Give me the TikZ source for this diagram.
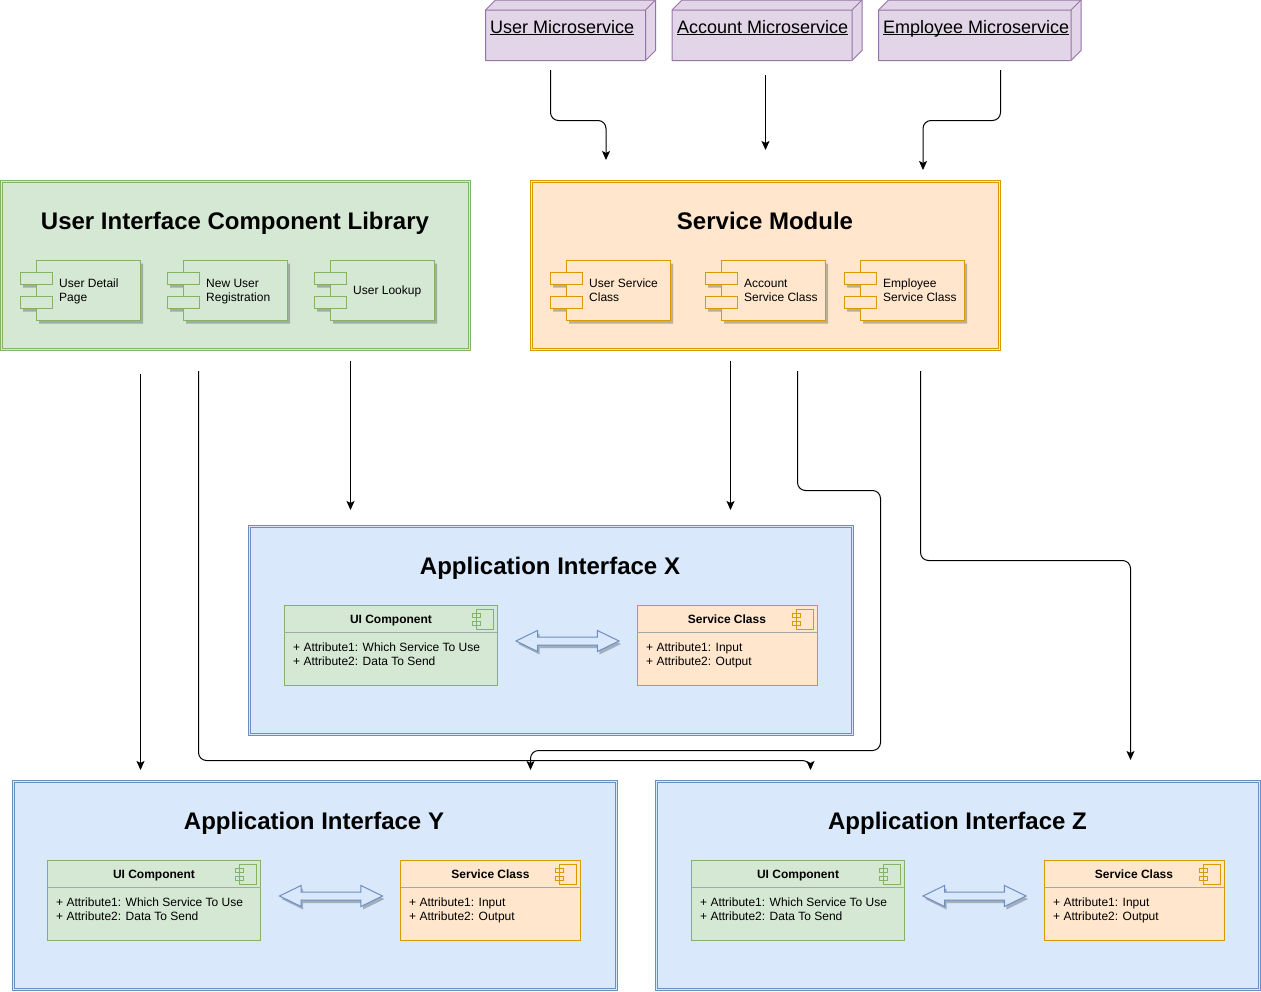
\documentclass[tikz,border=0pt]{standalone}
\usepackage{fontspec}
\setmainfont{Liberation Sans}
\usepackage{xcolor}
\usetikzlibrary{arrows.meta,shapes.arrows,shadows}
\definecolor{GreenFill}{HTML}{D5E8D4}
\definecolor{GreenLine}{HTML}{82B366}
\definecolor{GreenShade}{HTML}{A0AE9F}
\definecolor{OrangeFill}{HTML}{FFE6CC}
\definecolor{OrangeLine}{HTML}{D79B00}
\definecolor{OrangeShade}{HTML}{BFAC99}
\definecolor{BlueFill}{HTML}{DAE8FC}
\definecolor{BlueLine}{HTML}{6C8EBF}
\definecolor{BlueShade}{HTML}{A3AEBD}
\definecolor{PurpleFill}{HTML}{E1D5E7}
\definecolor{PurpleLine}{HTML}{9673A6}
\definecolor{RuleGray}{HTML}{A0A8A8}

\begin{document}
\begin{tikzpicture}[x=1pt,y=-1pt,
  panel/.style={draw=#1Line,fill=#1Fill,double=#1Fill,double distance=1pt,line width=1pt,inner sep=0pt,outer sep=0pt},
  box/.style={draw=#1Line,fill=#1Fill,line width=1pt},
  classrule/.style={draw=RuleGray,line width=1pt},
  deploy/.style={draw=PurpleLine,fill=PurpleFill,line width=1pt,line join=round},
  link/.style={draw=black,line width=1pt,rounded corners=8pt,-{Stealth[length=9pt,width=8pt,inset=2pt]}},
  swaparrow/.style={double arrow,draw=BlueLine,fill=BlueFill,line width=1pt,inner xsep=0pt,inner ysep=3.5pt,minimum height=103pt,minimum width=20pt,
    double arrow head extend=6.5pt,double arrow tip angle=52,general shadow={shadow xshift=2pt,shadow yshift=-3pt,fill=BlueShade}},
  title/.style={font=\fontsize{24}{28}\selectfont\bfseries,anchor=base,inner sep=0pt},
  msname/.style={font=\fontsize{18}{21}\selectfont,anchor=base west,inner sep=0pt},
  comptext/.style={font=\fontsize{12}{14}\selectfont,anchor=north west,align=left,inner sep=0pt},
  classhead/.style={font=\fontsize{12}{14}\selectfont\bfseries,anchor=base,inner sep=0pt},
]
\useasboundingbox (0,0) rectangle (1261,991);
% microservices
\draw[deploy] (485.5,10) -- (495.5,0) -- (655.5,0) -- (655.5,50.5) -- (645.5,60.5) -- (485.5,60.5) -- cycle;
\draw[deploy] (485.5,10) -- (645.5,10) -- (645.5,60.5) (645.5,10) -- (655.5,0);
\node[msname] (userMs) at (490,33) {\underline{\smash{User Microservice}}};
\draw[deploy] (672,10) -- (682,0) -- (862,0) -- (862,50.5) -- (852,60.5) -- (672,60.5) -- cycle;
\draw[deploy] (672,10) -- (852,10) -- (852,60.5) (852,10) -- (862,0);
\node[msname] (accountMs) at (677,33) {\underline{\smash{Account Microservice}}};
\draw[deploy] (878.5,10) -- (888.5,0) -- (1081,0) -- (1081,50.5) -- (1071,60.5) -- (878.5,60.5) -- cycle;
\draw[deploy] (878.5,10) -- (1071,10) -- (1071,60.5) (1071,10) -- (1081,0);
\node[msname] (employeeMs) at (883,33) {\underline{\smash{Employee Microservice}}};
% component library
\node[panel=Green,minimum width=468pt,minimum height=168pt] (libPanel) at (235,265) {};
\node[title] (libTitle) at (235,229) {User Interface Component Library};
\fill[GreenShade] (39,263.5) rectangle (143,323.5) (23,275.5) rectangle (55,287.5) (23,299.5) rectangle (55,311.5);
\draw[box=Green] (36.5,260.5) rectangle (140.5,320.5);
\draw[box=Green] (20.5,272.5) rectangle (52.5,284.5) (20.5,296.5) rectangle (52.5,308.5);
\node[comptext] (detailPage) at (59,278.3) {User Detail\\Page};
\fill[GreenShade] (186,263.5) rectangle (290,323.5) (170,275.5) rectangle (202,287.5) (170,299.5) rectangle (202,311.5);
\draw[box=Green] (183.5,260.5) rectangle (287.5,320.5);
\draw[box=Green] (167.5,272.5) rectangle (199.5,284.5) (167.5,296.5) rectangle (199.5,308.5);
\node[comptext] (newUser) at (206,278.75) {New User\\Registration};
\fill[GreenShade] (333,263.5) rectangle (437,323.5) (317,275.5) rectangle (349,287.5) (317,299.5) rectangle (349,311.5);
\draw[box=Green] (330.5,260.5) rectangle (434.5,320.5);
\draw[box=Green] (314.5,272.5) rectangle (346.5,284.5) (314.5,296.5) rectangle (346.5,308.5);
\node[comptext] (userLookup) at (353,285.3) {User Lookup};
% service module
\node[panel=Orange,minimum width=468pt,minimum height=168pt] (svcPanel) at (765,265) {};
\node[title] (svcTitle) at (765,229) {Service Module};
\fill[OrangeShade] (569,263.5) rectangle (673,323.5) (553,275.5) rectangle (585,287.5) (553,299.5) rectangle (585,311.5);
\draw[box=Orange] (566.5,260.5) rectangle (670.5,320.5);
\draw[box=Orange] (550.5,272.5) rectangle (582.5,284.5) (550.5,296.5) rectangle (582.5,308.5);
\node[comptext] (userSvc) at (589,278.3) {User Service\\Class};
\fill[OrangeShade] (724,263.5) rectangle (828,323.5) (708,275.5) rectangle (740,287.5) (708,299.5) rectangle (740,311.5);
\draw[box=Orange] (721.5,260.5) rectangle (825.5,320.5);
\draw[box=Orange] (705.5,272.5) rectangle (737.5,284.5) (705.5,296.5) rectangle (737.5,308.5);
\node[comptext] (accountSvc) at (744,278.75) {Account\\Service Class};
\fill[OrangeShade] (863,263.5) rectangle (967,323.5) (847,275.5) rectangle (879,287.5) (847,299.5) rectangle (879,311.5);
\draw[box=Orange] (860.5,260.5) rectangle (964.5,320.5);
\draw[box=Orange] (844.5,272.5) rectangle (876.5,284.5) (844.5,296.5) rectangle (876.5,308.5);
\node[comptext] (employeeSvc) at (883,278.3) {Employee\\Service Class};
% application interface X
\node[panel=Blue,minimum width=603pt,minimum height=208pt] (panelX) at (550.5,630) {};
\node[title] (titleX) at (550,574) {Application Interface X};
\draw[box=Green] (284,605.5) rectangle (497,685.5);
\draw[classrule] (284,632.5) -- (497,632.5);
\draw[box=Green] (476,609.5) rectangle (493,629.5) (472,613.5) rectangle (480,617.5) (472,621.5) rectangle (480,625.5);
\node[classhead] (uiHeadX) at (391,623) {UI Component};
\node[comptext] (uiAttrX) at (293,642.8) {+ Attribute1: Which Service To Use\\+ Attribute2: Data To Send};
\draw[box=Orange] (637,605.5) rectangle (817,685.5);
\draw[classrule] (637,632.5) -- (817,632.5);
\draw[box=Orange] (796,609.5) rectangle (813,629.5) (792,613.5) rectangle (800,617.5) (792,621.5) rectangle (800,625.5);
\node[classhead] (svcHeadX) at (727,623) {Service Class};
\node[comptext] (svcAttrX) at (646,642.8) {+ Attribute1: Input\\+ Attribute2: Output};
\node[swaparrow] (swapX) at (567.5,641) {};
% application interface Y
\node[panel=Blue,minimum width=603pt,minimum height=208pt] (panelY) at (314.5,885) {};
\node[title] (titleY) at (314,829) {Application Interface Y};
\draw[box=Green] (47.5,860.5) rectangle (260.5,940.5);
\draw[classrule] (47.5,887.5) -- (260.5,887.5);
\draw[box=Green] (239.5,864.5) rectangle (256.5,884.5) (235.5,868.5) rectangle (243.5,872.5) (235.5,876.5) rectangle (243.5,880.5);
\node[classhead] (uiHeadY) at (154,878) {UI Component};
\node[comptext] (uiAttrY) at (56,897.8) {+ Attribute1: Which Service To Use\\+ Attribute2: Data To Send};
\draw[box=Orange] (400.5,860.5) rectangle (580.5,940.5);
\draw[classrule] (400.5,887.5) -- (580.5,887.5);
\draw[box=Orange] (559.5,864.5) rectangle (576.5,884.5) (555.5,868.5) rectangle (563.5,872.5) (555.5,876.5) rectangle (563.5,880.5);
\node[classhead] (svcHeadY) at (490.5,878) {Service Class};
\node[comptext] (svcAttrY) at (409,897.8) {+ Attribute1: Input\\+ Attribute2: Output};
\node[swaparrow] (swapY) at (331,896) {};
% application interface Z
\node[panel=Blue,minimum width=603pt,minimum height=208pt] (panelZ) at (957.75,885) {};
\node[title] (titleZ) at (957.5,829) {Application Interface Z};
\draw[box=Green] (691,860.5) rectangle (904,940.5);
\draw[classrule] (691,887.5) -- (904,887.5);
\draw[box=Green] (883,864.5) rectangle (900,884.5) (879,868.5) rectangle (887,872.5) (879,876.5) rectangle (887,880.5);
\node[classhead] (uiHeadZ) at (798,878) {UI Component};
\node[comptext] (uiAttrZ) at (700,897.8) {+ Attribute1: Which Service To Use\\+ Attribute2: Data To Send};
\draw[box=Orange] (1044,860.5) rectangle (1224,940.5);
\draw[classrule] (1044,887.5) -- (1224,887.5);
\draw[box=Orange] (1203,864.5) rectangle (1220,884.5) (1199,868.5) rectangle (1207,872.5) (1199,876.5) rectangle (1207,880.5);
\node[classhead] (svcHeadZ) at (1134,878) {Service Class};
\node[comptext] (svcAttrZ) at (1053,897.8) {+ Attribute1: Input\\+ Attribute2: Output};
\node[swaparrow] (swapZ) at (974.5,896) {};
% connector ends
\coordinate (userFrom) at (550.5,70);
\coordinate (userTo) at (606,160);
\coordinate (accountFrom) at (765.5,75);
\coordinate (accountTo) at (765.5,150);
\coordinate (employeeFrom) at (1000.5,70);
\coordinate (employeeTo) at (923,170);
\coordinate (libFromA) at (140.5,374);
\coordinate (libToA) at (140.5,770);
\coordinate (libFromB) at (198.5,371);
\coordinate (libToB) at (810.5,770);
\coordinate (libFromC) at (350.5,361);
\coordinate (libToC) at (350.5,510);
\coordinate (svcFromA) at (730.5,361);
\coordinate (svcToA) at (730.5,510);
\coordinate (svcFromB) at (797.5,371);
\coordinate (svcToB) at (530.5,770);
\coordinate (svcFromC) at (920.5,371);
\coordinate (svcToC) at (1130.5,760);
% connectors
\draw[link] (userFrom) -- (550.5,120.5) -| (userTo);
\draw[link] (accountFrom) -- (accountTo);
\draw[link] (employeeFrom) -- (1000.5,120.5) -| (employeeTo);
\draw[link] (libFromA) -- (libToA);
\draw[link] (libFromB) -- (198.5,760.5) -| (libToB);
\draw[link] (libFromC) -- (libToC);
\draw[link] (svcFromA) -- (svcToA);
\draw[link] (svcFromB) -- (797.5,490.5) -- (880.5,490.5) -- (880.5,750.5) -| (svcToB);
\draw[link] (svcFromC) -- (920.5,560.5) -| (svcToC);
\end{tikzpicture}
\end{document}
